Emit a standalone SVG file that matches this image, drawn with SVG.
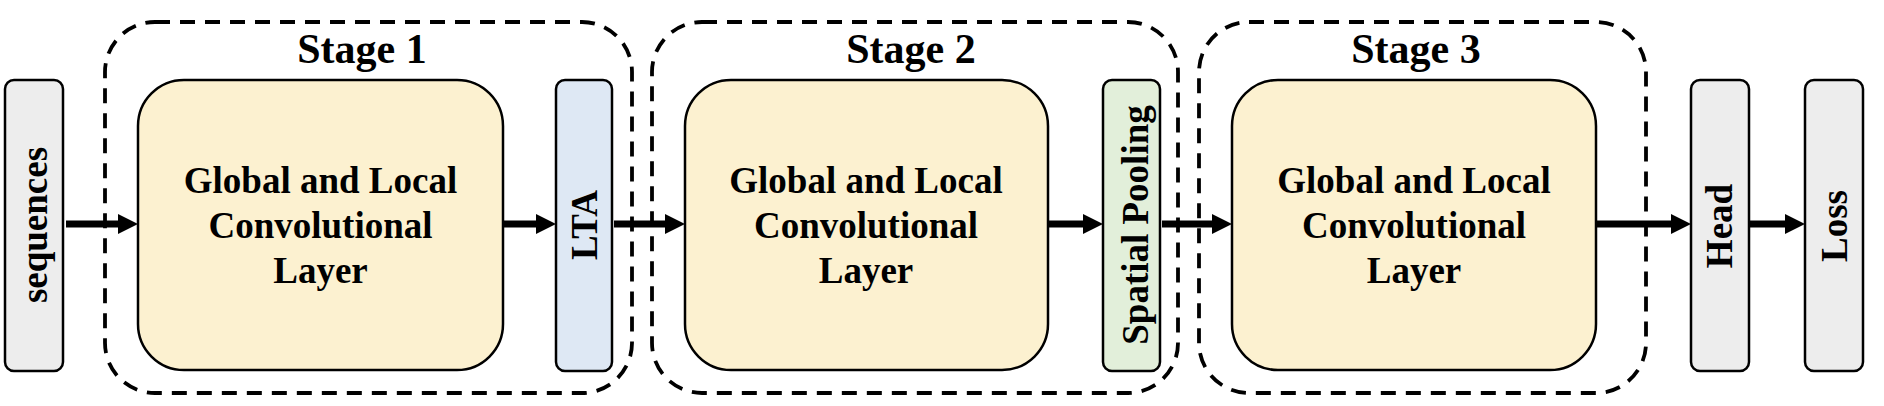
<svg xmlns="http://www.w3.org/2000/svg" width="1884" height="406" viewBox="0 0 1884 406">
<style>
text{font-family:"Liberation Serif","Times New Roman",serif;font-weight:bold;fill:#000}
.stage{fill:none;stroke:#000;stroke-width:3.8;stroke-dasharray:15 10}
.box{stroke:#000;stroke-width:2.5}
.gray{fill:#ededed}
.yel{fill:#fcf1d0}
.blue{fill:#dee8f4}
.green{fill:#e2efda}
.lbl{font-size:37px;text-anchor:middle}
.st{font-size:42px;text-anchor:middle}
.conn line{stroke:#000;stroke-width:7;marker-end:url(#ah)}
</style>
<defs>
<marker id="ah" markerUnits="userSpaceOnUse" markerWidth="22" markerHeight="22" refX="2" refY="10" orient="auto" viewBox="0 0 22 22">
<path d="M0,0 L20,10 L0,20 z" fill="#000"/>
</marker>
</defs>
<rect width="1884" height="406" fill="#fff"/>
<g id="stage1"><rect class="stage" x="105" y="22" width="527" height="371" rx="50" ry="50"/><text class="st" x="362" y="63">Stage 1</text></g>
<g id="stage2"><rect class="stage" x="652" y="22" width="526" height="371" rx="50" ry="50"/><text class="st" x="911" y="63">Stage 2</text></g>
<g id="stage3"><rect class="stage" x="1199" y="22" width="447" height="371" rx="50" ry="50"/><text class="st" x="1416" y="63">Stage 3</text></g>
<g id="sequences"><rect class="box gray" x="5" y="80" width="58" height="291" rx="9"/><text class="lbl" transform="translate(34,225) rotate(-90)" x="0" y="13">sequences</text></g>
<g id="glc1"><rect class="box yel" x="138" y="80" width="365" height="290" rx="46"/><text class="lbl" x="320.5" y="193">Global and Local</text><text class="lbl" x="320.5" y="238">Convolutional</text><text class="lbl" x="320.5" y="283">Layer</text></g>
<g id="lta"><rect class="box blue" x="556" y="80" width="56" height="291" rx="9"/><text class="lbl" transform="translate(584,225) rotate(-90)" x="0" y="13">LTA</text></g>
<g id="glc2"><rect class="box yel" x="685" y="80" width="363" height="290" rx="46"/><text class="lbl" x="866" y="193">Global and Local</text><text class="lbl" x="866" y="238">Convolutional</text><text class="lbl" x="866" y="283">Layer</text></g>
<g id="spatialpooling"><rect class="box green" x="1103" y="80" width="57" height="291" rx="9"/><text class="lbl" transform="translate(1131.5,225) rotate(-90)" x="0" y="16">Spatial Pooling</text></g>
<g id="glc3"><rect class="box yel" x="1232" y="80" width="364" height="290" rx="46"/><text class="lbl" x="1414" y="193">Global and Local</text><text class="lbl" x="1414" y="238">Convolutional</text><text class="lbl" x="1414" y="283">Layer</text></g>
<g id="head"><rect class="box gray" x="1691" y="80" width="58" height="291" rx="9"/><text class="lbl" transform="translate(1720,226) rotate(-90)" x="0" y="12">Head</text></g>
<g id="loss"><rect class="box gray" x="1805" y="80" width="58" height="291" rx="9"/><text class="lbl" transform="translate(1834,226) rotate(-90)" x="0" y="13">Loss</text></g>
<g id="connectors" class="conn">
<line x1="66" y1="224" x2="120" y2="224"/>
<line x1="504" y1="224" x2="538" y2="224"/>
<line x1="614" y1="224" x2="667" y2="224"/>
<line x1="1049" y1="224" x2="1085" y2="224"/>
<line x1="1162" y1="224" x2="1214" y2="224"/>
<line x1="1597" y1="224" x2="1673" y2="224"/>
<line x1="1750" y1="224" x2="1787" y2="224"/>
</g>
</svg>
